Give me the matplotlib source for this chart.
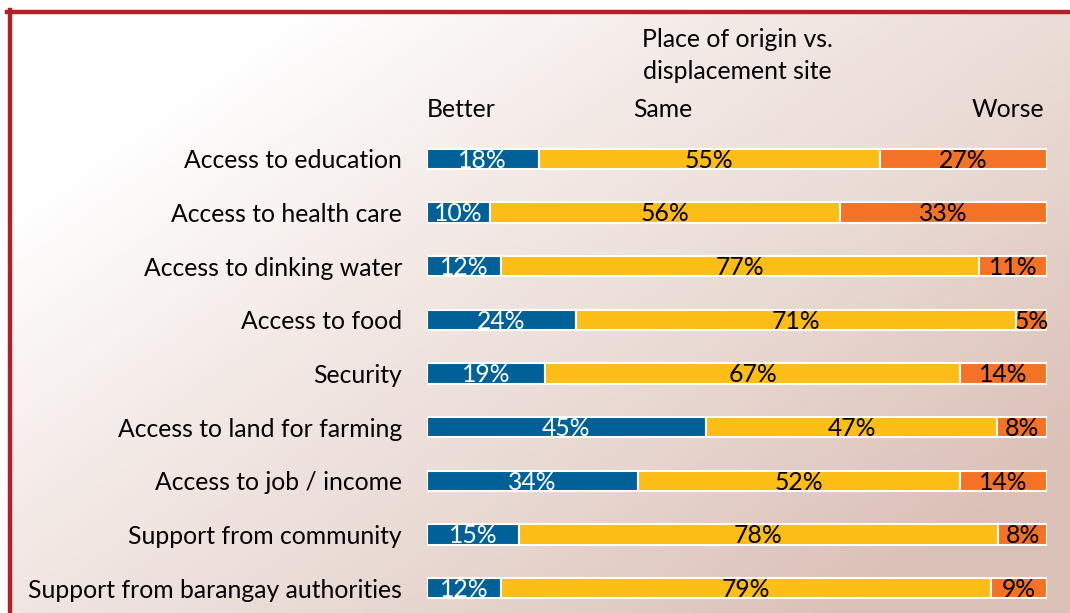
"""Place of origin vs. displacement site: 100% stacked horizontal bars."""

import matplotlib

matplotlib.use("Agg")
import matplotlib.pyplot as plt  # noqa: E402
import numpy as np  # noqa: E402
from matplotlib.colors import LinearSegmentedColormap  # noqa: E402

categories = [
    "Access to education",
    "Access to health care",
    "Access to dinking water",
    "Access to food",
    "Security",
    "Access to land for farming",
    "Access to job / income",
    "Support from community",
    "Support from barangay authorities",
]
better = [18, 10, 12, 24, 19, 45, 34, 15, 12]
same = [55, 56, 77, 71, 67, 47, 52, 78, 79]
worse = [27, 33, 11, 5, 14, 8, 14, 8, 9]

BLUE = "#006198"
YELLOW = "#FCBD16"
ORANGE = "#F37226"
BORDER = "#B31F29"

plt.rcParams["font.family"] = ["Lato", "DejaVu Sans"]
plt.rcParams["font.size"] = 17.8

W, H = 1070, 613
fig = plt.figure(figsize=(W / 100, H / 100), dpi=100)
fig.patch.set_facecolor("white")

# diagonal gradient background inside the red frame
bg = fig.add_axes([9 / W, 0, 1 - 9 / W, 1 - 11 / H])
bg.set_axis_off()
gx, gy = np.meshgrid(np.linspace(0, 1, 300), np.linspace(0, 1, 200))
t = np.clip((gx * 0.75 + gy * 0.6) - 0.2, 0, 1)
cmap = LinearSegmentedColormap.from_list(
    "bg", ["#ffffff", "#f3e9e5", "#e8d7d1", "#dbc0b7"])
bg.imshow(t, cmap=cmap, aspect="auto", extent=[0, 1, 0, 1], origin="upper",
          vmin=0, vmax=1)
bg.set_xlim(0, 1)
bg.set_ylim(0, 1)

# red frame: top and left edges
fig.add_artist(plt.Line2D([7 / W, 1], [1 - 11.5 / H, 1 - 11.5 / H],
                          transform=fig.transFigure, color=BORDER, lw=3.2))
fig.add_artist(plt.Line2D([9.5 / W, 9.5 / W], [0, 1 - 10 / H],
                          transform=fig.transFigure, color=BORDER, lw=3.2))

ax = fig.add_axes([427 / W, (H - 615) / H, 620 / W, 483 / H])
ax.patch.set_alpha(0)

b = np.array(better, float)
s = np.array(same, float)
w = np.array(worse, float)
tot = b + s + w
bp, sp, wp = b / tot * 100, s / tot * 100, w / tot * 100
y = np.arange(len(categories))
h = 0.38
dy = 0.025  # nudge text slightly down to sit like the reference

ax.barh(y, bp, height=h, color=BLUE, edgecolor="white", lw=1.5)
ax.barh(y, sp, left=bp, height=h, color=YELLOW, edgecolor="white", lw=1.5)
ax.barh(y, wp, left=bp + sp, height=h, color=ORANGE, edgecolor="white", lw=1.5)

for i in range(len(categories)):
    ax.text(bp[i] / 2, y[i] + dy, f"{better[i]}%", ha="center", va="center",
            color="white")
    ax.text(bp[i] + sp[i] / 2, y[i] + dy, f"{same[i]}%", ha="center",
            va="center", color="black")
    ax.text(bp[i] + sp[i] + wp[i] / 2, y[i] + dy, f"{worse[i]}%", ha="center",
            va="center", color="black")

ax.set_xlim(0, 100)
ax.set_ylim(len(categories) - 0.5, -0.5)
ax.set_yticks(y, categories)
ax.tick_params(axis="y", length=0, pad=18)
ax.set_xticks([])
for sp_ in ax.spines.values():
    sp_.set_visible(False)

ax.text(0, -0.92, "Better", ha="left", va="center")
ax.text(38, -0.92, "Same", ha="center", va="center")
ax.text(99.6, -0.92, "Worse", ha="right", va="center")
ax.text(50, -2.22, "Place of origin vs.", ha="center", va="center")
ax.text(50, -1.62, "displacement site", ha="center", va="center")

fig.savefig("out.png", dpi=100)
